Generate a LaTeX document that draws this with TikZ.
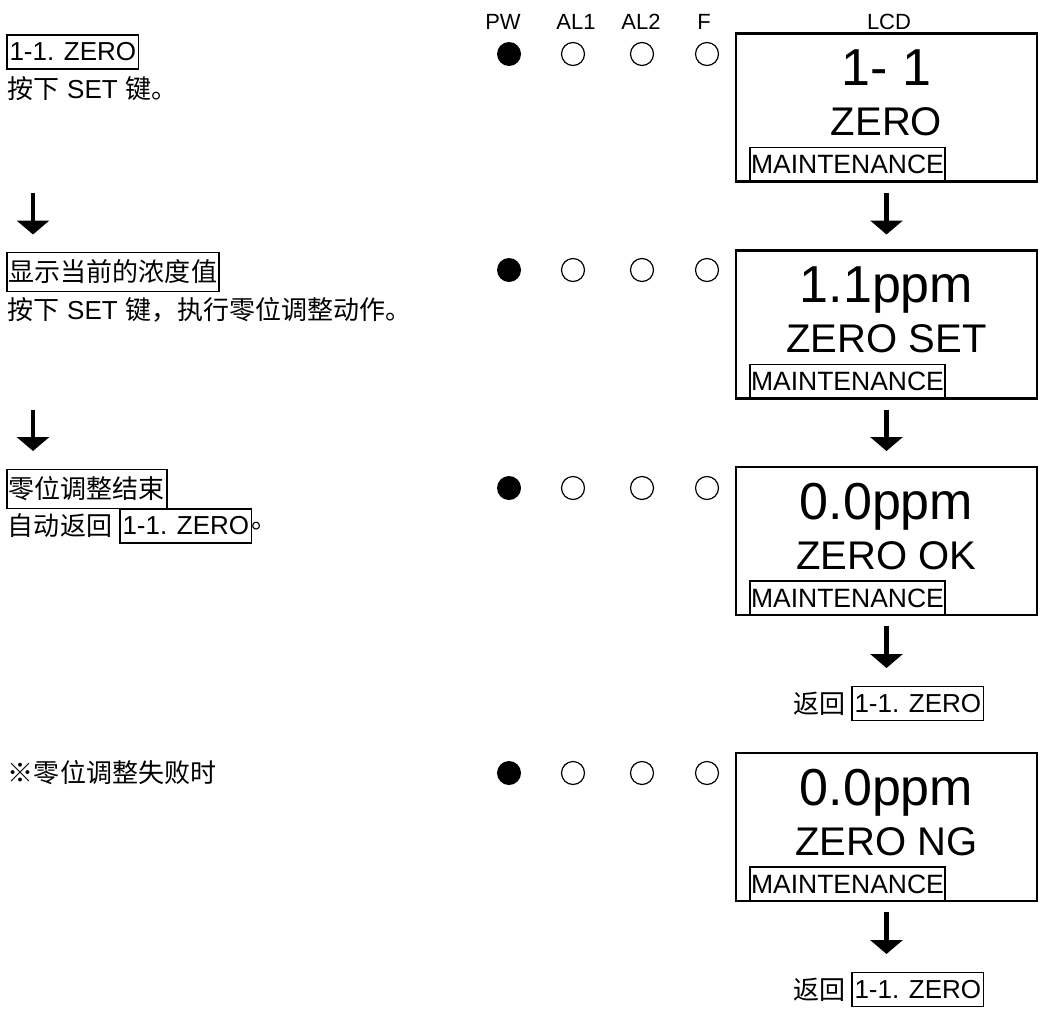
\documentclass[tikz,border=0pt]{standalone}
\usepackage{fontspec}
\setmainfont{Liberation Sans}
\newfontfamily\cjk{Noto Sans CJK SC}
\usepackage{tikz}
\usetikzlibrary{arrows.meta, positioning, calc}

\begin{document}
\begin{tikzpicture}[
    x=1pt, y=-1pt,
    every node/.style={font=\fontsize{26}{30}\selectfont, inner sep=0pt, outer sep=0pt},
    cn/.style={font=\fontsize{26}{30}\selectfont\cjk},
    keybox/.style={draw, line width=1.6pt, inner xsep=2.5pt, minimum height=34pt},
    cjkbox/.style={cn, draw, line width=1.6pt, inner xsep=2pt, minimum height=39pt},
    lcd/.style={draw, line width=2.2pt, minimum width=301pt, minimum height=148pt},
    lcdbig/.style={font=\fontsize{52}{60}\selectfont},
    lcdmid/.style={font=\fontsize{40}{48}\selectfont},
    tag/.style={draw, line width=1.6pt, inner xsep=1pt, minimum height=34pt,
                font=\fontsize{26.5}{30}\selectfont},
    ledon/.style={circle, fill, minimum size=24pt},
    ledoff/.style={circle, draw, line width=1.2pt, minimum size=23pt},
    hdr/.style={font=\fontsize{22}{26}\selectfont},
    downarrow/.style={-{Triangle[width=32pt, length=14pt]}, line width=4.5pt}
]
    \useasboundingbox (0,0) rectangle (1041,1012);

    \node[hdr] (hPW) at (503,22) {PW};
    \node[hdr] (hAL1) at (576,22) {AL1};
    \node[hdr] (hAL2) at (641,22) {AL2};
    \node[hdr] (hF) at (704,22) {F};
    \node[hdr] (hLCD) at (889,22) {LCD};

    \foreach \row/\y in {A/54, B/270, C/488, D/773} {
        \node[ledon] (pw\row) at (509,\y) {};
        \node[ledoff] (alone\row) at (573,\y) {};
        \node[ledoff] (altwo\row) at (642,\y) {};
        \node[ledoff] (f\row) at (707,\y) {};
    }

    \node[keybox, anchor=west] (stepA) at (7,52) {1-1. ZERO};
    \node[anchor=west] (noteA) at (8,89) {{\cjk 按下} SET {\cjk 键。}};
    \node[cjkbox, anchor=west] (stepB) at (7,272) {显示当前的浓度值};
    \node[anchor=west] (noteB) at (8,310) {{\cjk 按下} SET {\cjk 键，执行零位调整动作。}};
    \node[cjkbox, anchor=west] (stepC) at (7,489) {零位调整结束};
    \node[cn, anchor=west] (noteC) at (8,526) {自动返回};
    \node[keybox, right=8pt of noteC] (keyC) {1-1. ZERO};
    \node[cn, right=0pt of keyC] (dotC) {。};
    \node[cn, anchor=west] (stepD) at (8,773) {※零位调整失败时};

    \node[lcd] (lcdA) at (886.5,107.5) {};
    \node[lcdbig, anchor=base] (lcdA1) at ($(lcdA.north)+(0,52)$) {1- 1};
    \node[lcdmid, anchor=base] (lcdA2) at ($(lcdA.north)+(0,102)$) {ZERO};
    \node[tag, anchor=south west] (tagA) at ($(lcdA.south west)+(14,0)$) {MAINTENANCE};

    \node[lcd] (lcdB) at (886.5,324.5) {};
    \node[lcdbig, anchor=base] (lcdB1) at ($(lcdB.north)+(0,52)$) {1.1ppm};
    \node[lcdmid, anchor=base] (lcdB2) at ($(lcdB.north)+(0,102)$) {ZERO SET};
    \node[tag, anchor=south west] (tagB) at ($(lcdB.south west)+(14,0)$) {MAINTENANCE};

    \node[lcd] (lcdC) at (886.5,541) {};
    \node[lcdbig, anchor=base] (lcdC1) at ($(lcdC.north)+(0,52)$) {0.0ppm};
    \node[lcdmid, anchor=base] (lcdC2) at ($(lcdC.north)+(0,102)$) {ZERO OK};
    \node[tag, anchor=south west] (tagC) at ($(lcdC.south west)+(14,0)$) {MAINTENANCE};

    \node[lcd] (lcdD) at (886.5,827) {};
    \node[lcdbig, anchor=base] (lcdD1) at ($(lcdD.north)+(0,52)$) {0.0ppm};
    \node[lcdmid, anchor=base] (lcdD2) at ($(lcdD.north)+(0,102)$) {ZERO NG};
    \node[tag, anchor=south west] (tagD) at ($(lcdD.south west)+(14,0)$) {MAINTENANCE};

    \node[keybox, anchor=west] (backC) at (852,703.5) {1-1. ZERO};
    \node[cn, left=7pt of backC] (retC) {返回};
    \node[keybox, anchor=west] (backD) at (852,989.5) {1-1. ZERO};
    \node[cn, left=7pt of backD] (retD) {返回};

    \coordinate (leftX) at (33,0);

    \draw[downarrow] ($(lcdA.south)+(0,11)$) -- ($(lcdB.north)+(0,-16)$);
    \draw[downarrow] ($(lcdB.south)+(0,11)$) -- ($(lcdC.north)+(0,-16)$);
    \draw[downarrow] ($(lcdC.south)+(0,11)$) -- ($(backC.north -| lcdC.south)+(0,-18.5)$);
    \draw[downarrow] ($(lcdD.south)+(0,11)$) -- ($(backD.north -| lcdD.south)+(0,-18.5)$);
    \draw[downarrow] ($(lcdA.south -| leftX)+(0,11)$) -- ($(lcdB.north -| leftX)+(0,-16)$);
    \draw[downarrow] ($(lcdB.south -| leftX)+(0,11)$) -- ($(lcdC.north -| leftX)+(0,-16)$);
\end{tikzpicture}
\end{document}
